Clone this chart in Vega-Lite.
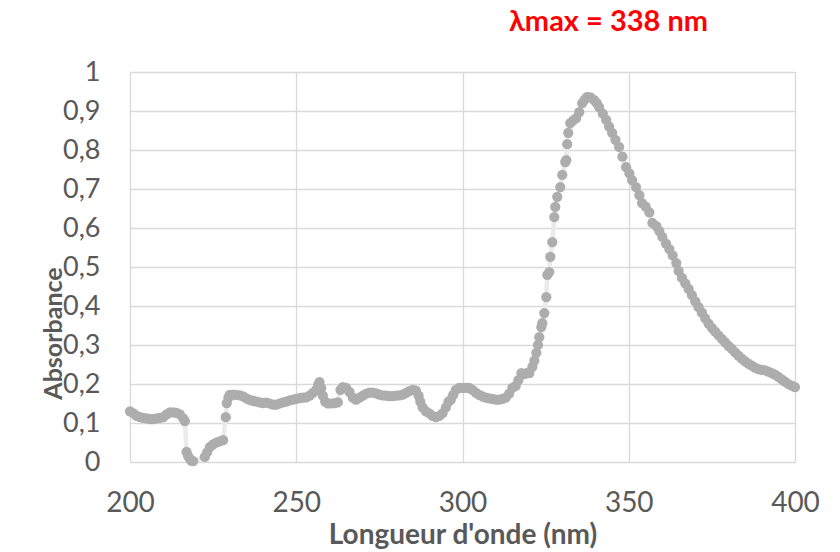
{
  "$schema": "https://vega.github.io/schema/vega-lite/v6.json",
  "width": 665,
  "height": 390,
  "autosize": {"type": "none"},
  "padding": {"left": 130, "top": 72, "right": 45, "bottom": 90},
  "background": "#ffffff",
  "config": {"view": {"stroke": null}, "font": "Lato"},
  "title": {
    "text": "λmax = 338 nm",
    "color": "#FF0000",
    "fontSize": 29,
    "font": "Lato",
    "fontWeight": "bold",
    "anchor": "middle",
    "dx": 146,
    "dy": 30,
    "frame": "group",
    "offset": 22,
    "baseline": "bottom"
  },
  "data": {
    "values": [
      {"wavelength": 200, "absorbance": 0.13},
      {"wavelength": 201, "absorbance": 0.125},
      {"wavelength": 202, "absorbance": 0.118},
      {"wavelength": 203, "absorbance": 0.115},
      {"wavelength": 204, "absorbance": 0.113},
      {"wavelength": 205, "absorbance": 0.112},
      {"wavelength": 206, "absorbance": 0.11},
      {"wavelength": 207, "absorbance": 0.11},
      {"wavelength": 208, "absorbance": 0.112},
      {"wavelength": 209, "absorbance": 0.113},
      {"wavelength": 210, "absorbance": 0.115},
      {"wavelength": 211, "absorbance": 0.122},
      {"wavelength": 212, "absorbance": 0.127},
      {"wavelength": 213, "absorbance": 0.127},
      {"wavelength": 214, "absorbance": 0.126},
      {"wavelength": 215, "absorbance": 0.122},
      {"wavelength": 216, "absorbance": 0.112},
      {"wavelength": 216.5, "absorbance": 0.105},
      {"wavelength": 217, "absorbance": 0.026},
      {"wavelength": 217.5, "absorbance": 0.015},
      {"wavelength": 218, "absorbance": 0.008},
      {"wavelength": 218.5, "absorbance": 0.003},
      {"wavelength": 219, "absorbance": 0.002},
      {"wavelength": 222.5, "absorbance": 0.013},
      {"wavelength": 223.2, "absorbance": 0.025},
      {"wavelength": 224, "absorbance": 0.038},
      {"wavelength": 225, "absorbance": 0.045},
      {"wavelength": 226, "absorbance": 0.05},
      {"wavelength": 227, "absorbance": 0.053},
      {"wavelength": 228, "absorbance": 0.056},
      {"wavelength": 228.8, "absorbance": 0.115},
      {"wavelength": 229.1, "absorbance": 0.151},
      {"wavelength": 229.6, "absorbance": 0.165},
      {"wavelength": 230, "absorbance": 0.172},
      {"wavelength": 231, "absorbance": 0.173},
      {"wavelength": 232, "absorbance": 0.172},
      {"wavelength": 233, "absorbance": 0.171},
      {"wavelength": 234, "absorbance": 0.168},
      {"wavelength": 235, "absorbance": 0.163},
      {"wavelength": 236, "absorbance": 0.159},
      {"wavelength": 237, "absorbance": 0.157},
      {"wavelength": 238, "absorbance": 0.155},
      {"wavelength": 239, "absorbance": 0.153},
      {"wavelength": 240, "absorbance": 0.151},
      {"wavelength": 241, "absorbance": 0.152},
      {"wavelength": 242, "absorbance": 0.15},
      {"wavelength": 243, "absorbance": 0.147},
      {"wavelength": 244, "absorbance": 0.147},
      {"wavelength": 245, "absorbance": 0.15},
      {"wavelength": 246, "absorbance": 0.153},
      {"wavelength": 247, "absorbance": 0.155},
      {"wavelength": 248, "absorbance": 0.158},
      {"wavelength": 249, "absorbance": 0.16},
      {"wavelength": 250, "absorbance": 0.162},
      {"wavelength": 251, "absorbance": 0.164},
      {"wavelength": 252, "absorbance": 0.165},
      {"wavelength": 253, "absorbance": 0.166},
      {"wavelength": 254, "absorbance": 0.17},
      {"wavelength": 255, "absorbance": 0.177},
      {"wavelength": 256, "absorbance": 0.185},
      {"wavelength": 256.6, "absorbance": 0.198},
      {"wavelength": 257, "absorbance": 0.205},
      {"wavelength": 257.5, "absorbance": 0.19},
      {"wavelength": 258, "absorbance": 0.17},
      {"wavelength": 258.7, "absorbance": 0.155},
      {"wavelength": 259.5, "absorbance": 0.15},
      {"wavelength": 260.5, "absorbance": 0.15},
      {"wavelength": 261.5, "absorbance": 0.151},
      {"wavelength": 262.5, "absorbance": 0.153},
      {"wavelength": 263.3, "absorbance": 0.185},
      {"wavelength": 264, "absorbance": 0.192},
      {"wavelength": 265, "absorbance": 0.19},
      {"wavelength": 266, "absorbance": 0.18},
      {"wavelength": 267, "absorbance": 0.165},
      {"wavelength": 268, "absorbance": 0.16},
      {"wavelength": 269, "absorbance": 0.165},
      {"wavelength": 270, "absorbance": 0.17},
      {"wavelength": 271, "absorbance": 0.175},
      {"wavelength": 272, "absorbance": 0.178},
      {"wavelength": 273, "absorbance": 0.178},
      {"wavelength": 274, "absorbance": 0.176},
      {"wavelength": 275, "absorbance": 0.173},
      {"wavelength": 276, "absorbance": 0.171},
      {"wavelength": 277, "absorbance": 0.17},
      {"wavelength": 278, "absorbance": 0.169},
      {"wavelength": 279, "absorbance": 0.169},
      {"wavelength": 280, "absorbance": 0.17},
      {"wavelength": 281, "absorbance": 0.171},
      {"wavelength": 282, "absorbance": 0.173},
      {"wavelength": 283, "absorbance": 0.177},
      {"wavelength": 284, "absorbance": 0.182},
      {"wavelength": 285, "absorbance": 0.185},
      {"wavelength": 286, "absorbance": 0.183},
      {"wavelength": 286.8, "absorbance": 0.17},
      {"wavelength": 287.3, "absorbance": 0.155},
      {"wavelength": 288, "absorbance": 0.14},
      {"wavelength": 289, "absorbance": 0.13},
      {"wavelength": 290, "absorbance": 0.125},
      {"wavelength": 291, "absorbance": 0.118},
      {"wavelength": 292, "absorbance": 0.115},
      {"wavelength": 293, "absorbance": 0.118},
      {"wavelength": 294, "absorbance": 0.125},
      {"wavelength": 295, "absorbance": 0.14},
      {"wavelength": 295.8, "absorbance": 0.155},
      {"wavelength": 296.5, "absorbance": 0.16},
      {"wavelength": 297.2, "absorbance": 0.172},
      {"wavelength": 298, "absorbance": 0.185},
      {"wavelength": 299, "absorbance": 0.19},
      {"wavelength": 300, "absorbance": 0.19},
      {"wavelength": 301, "absorbance": 0.19},
      {"wavelength": 302, "absorbance": 0.19},
      {"wavelength": 303, "absorbance": 0.185},
      {"wavelength": 304, "absorbance": 0.178},
      {"wavelength": 305, "absorbance": 0.172},
      {"wavelength": 306, "absorbance": 0.168},
      {"wavelength": 307, "absorbance": 0.165},
      {"wavelength": 308, "absorbance": 0.163},
      {"wavelength": 309, "absorbance": 0.162},
      {"wavelength": 310, "absorbance": 0.16},
      {"wavelength": 311, "absorbance": 0.16},
      {"wavelength": 312, "absorbance": 0.162},
      {"wavelength": 313, "absorbance": 0.165},
      {"wavelength": 314, "absorbance": 0.175},
      {"wavelength": 315, "absorbance": 0.19},
      {"wavelength": 316, "absorbance": 0.195},
      {"wavelength": 316.8, "absorbance": 0.21},
      {"wavelength": 317.7, "absorbance": 0.228},
      {"wavelength": 318.5, "absorbance": 0.225},
      {"wavelength": 319.3, "absorbance": 0.228},
      {"wavelength": 320.1, "absorbance": 0.228},
      {"wavelength": 321, "absorbance": 0.244},
      {"wavelength": 321.6, "absorbance": 0.26},
      {"wavelength": 322.2, "absorbance": 0.28},
      {"wavelength": 322.7, "absorbance": 0.3},
      {"wavelength": 323.1, "absorbance": 0.32},
      {"wavelength": 323.7, "absorbance": 0.346},
      {"wavelength": 324, "absorbance": 0.356},
      {"wavelength": 324.6, "absorbance": 0.382},
      {"wavelength": 325.2, "absorbance": 0.423},
      {"wavelength": 325.5, "absorbance": 0.48},
      {"wavelength": 326.1, "absorbance": 0.487},
      {"wavelength": 326.4, "absorbance": 0.526},
      {"wavelength": 327, "absorbance": 0.564},
      {"wavelength": 327.6, "absorbance": 0.628},
      {"wavelength": 327.9, "absorbance": 0.654},
      {"wavelength": 328.5, "absorbance": 0.68},
      {"wavelength": 329.4, "absorbance": 0.705},
      {"wavelength": 330, "absorbance": 0.736},
      {"wavelength": 330.9, "absorbance": 0.769},
      {"wavelength": 331.2, "absorbance": 0.774},
      {"wavelength": 331.5, "absorbance": 0.815},
      {"wavelength": 331.8, "absorbance": 0.844},
      {"wavelength": 332.4, "absorbance": 0.869},
      {"wavelength": 333.3, "absorbance": 0.876},
      {"wavelength": 334.2, "absorbance": 0.882},
      {"wavelength": 335.1, "absorbance": 0.897},
      {"wavelength": 336, "absorbance": 0.92},
      {"wavelength": 336.8, "absorbance": 0.93},
      {"wavelength": 337.5, "absorbance": 0.936},
      {"wavelength": 338.5, "absorbance": 0.935},
      {"wavelength": 339.6, "absorbance": 0.928},
      {"wavelength": 340.4, "absorbance": 0.92},
      {"wavelength": 341.1, "absorbance": 0.91},
      {"wavelength": 342.2, "absorbance": 0.893},
      {"wavelength": 343.2, "absorbance": 0.877},
      {"wavelength": 344.1, "absorbance": 0.86},
      {"wavelength": 345, "absorbance": 0.844},
      {"wavelength": 346, "absorbance": 0.826},
      {"wavelength": 347.1, "absorbance": 0.808},
      {"wavelength": 348.1, "absorbance": 0.783},
      {"wavelength": 349.2, "absorbance": 0.756},
      {"wavelength": 350.2, "absorbance": 0.74},
      {"wavelength": 351, "absorbance": 0.723},
      {"wavelength": 352.2, "absorbance": 0.705},
      {"wavelength": 353.2, "absorbance": 0.684},
      {"wavelength": 354, "absorbance": 0.664},
      {"wavelength": 355.1, "absorbance": 0.655},
      {"wavelength": 356.2, "absorbance": 0.64},
      {"wavelength": 357.1, "absorbance": 0.613},
      {"wavelength": 358.3, "absorbance": 0.605},
      {"wavelength": 359.2, "absorbance": 0.592},
      {"wavelength": 360.1, "absorbance": 0.577},
      {"wavelength": 361.2, "absorbance": 0.56},
      {"wavelength": 362.2, "absorbance": 0.546},
      {"wavelength": 363.2, "absorbance": 0.53},
      {"wavelength": 364.3, "absorbance": 0.51},
      {"wavelength": 365, "absorbance": 0.49},
      {"wavelength": 366, "absorbance": 0.472},
      {"wavelength": 367, "absorbance": 0.458},
      {"wavelength": 368, "absorbance": 0.444},
      {"wavelength": 369, "absorbance": 0.428},
      {"wavelength": 370, "absorbance": 0.412},
      {"wavelength": 371, "absorbance": 0.397},
      {"wavelength": 372, "absorbance": 0.383},
      {"wavelength": 373, "absorbance": 0.368},
      {"wavelength": 374, "absorbance": 0.355},
      {"wavelength": 375, "absorbance": 0.344},
      {"wavelength": 376, "absorbance": 0.334},
      {"wavelength": 377, "absorbance": 0.325},
      {"wavelength": 378, "absorbance": 0.316},
      {"wavelength": 379, "absorbance": 0.307},
      {"wavelength": 380, "absorbance": 0.298},
      {"wavelength": 381, "absorbance": 0.29},
      {"wavelength": 382, "absorbance": 0.281},
      {"wavelength": 383, "absorbance": 0.273},
      {"wavelength": 384, "absorbance": 0.265},
      {"wavelength": 385, "absorbance": 0.258},
      {"wavelength": 386, "absorbance": 0.252},
      {"wavelength": 387, "absorbance": 0.247},
      {"wavelength": 388, "absorbance": 0.242},
      {"wavelength": 389, "absorbance": 0.238},
      {"wavelength": 390, "absorbance": 0.236},
      {"wavelength": 391, "absorbance": 0.235},
      {"wavelength": 392, "absorbance": 0.232},
      {"wavelength": 393, "absorbance": 0.228},
      {"wavelength": 394, "absorbance": 0.224},
      {"wavelength": 395, "absorbance": 0.218},
      {"wavelength": 396, "absorbance": 0.212},
      {"wavelength": 397, "absorbance": 0.206},
      {"wavelength": 398, "absorbance": 0.2},
      {"wavelength": 399, "absorbance": 0.196},
      {"wavelength": 400, "absorbance": 0.192}
    ]
  },
  "encoding": {
    "x": {
      "field": "wavelength",
      "type": "quantitative",
      "scale": {"domain": [200, 400], "nice": false, "zero": false},
      "axis": {
        "values": [200, 250, 300, 350, 400],
        "grid": true,
        "gridColor": "#D9D9D9",
        "gridWidth": 1.3,
        "domain": false,
        "ticks": false,
        "tickSize": 0,
        "labelFontSize": 28,
        "labelFont": "Lato",
        "labelColor": "#595959",
        "labelPadding": 27,
        "labelBaseline": "top",
        "labelFlush": false,
        "labelOverlap": false,
        "title": "Longueur d'onde (nm)",
        "titleFontSize": 28,
        "titleFont": "Lato",
        "titleFontWeight": "bold",
        "titleColor": "#595959",
        "titleY": 81,
        "titleBaseline": "alphabetic"
      }
    },
    "y": {
      "field": "absorbance",
      "type": "quantitative",
      "scale": {"domain": [0, 1], "nice": false},
      "axis": {
        "values": [0, 0.1, 0.2, 0.3, 0.4, 0.5, 0.6, 0.7, 0.8, 0.9, 1],
        "grid": true,
        "gridColor": "#D9D9D9",
        "gridWidth": 1.3,
        "domain": false,
        "ticks": false,
        "tickSize": 0,
        "labelExpr": "replace(format(datum.value, '.1~f'), '.', ',')",
        "labelFontSize": 27,
        "labelFont": "Lato",
        "labelColor": "#595959",
        "labelPadding": 30,
        "labelBaseline": "middle",
        "labelFlush": false,
        "labelOverlap": false,
        "title": "Absorbance",
        "titleFontSize": 25,
        "titleFont": "Lato",
        "titleFontWeight": "bold",
        "titleColor": "#595959",
        "titleX": -69,
        "titleY": 261,
        "titleAngle": 270,
        "titleAlign": "center",
        "titleBaseline": "alphabetic"
      }
    }
  },
  "layer": [
    {"mark": {"type": "line", "color": "#EBEBEB", "strokeWidth": 4.5}},
    {"mark": {"type": "circle", "color": "#ADADAD", "opacity": 1, "size": 105}}
  ]
}
